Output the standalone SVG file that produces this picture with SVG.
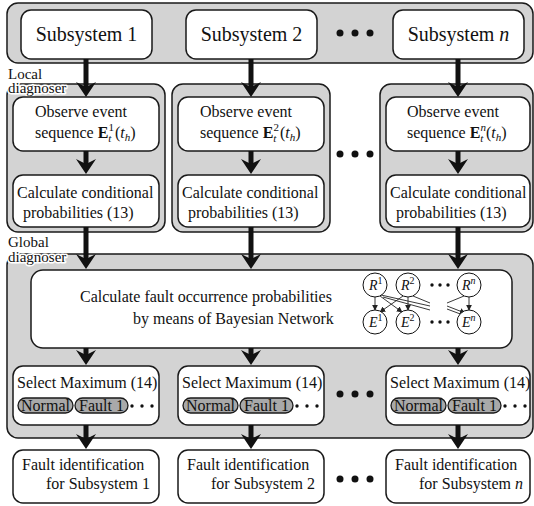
<svg xmlns="http://www.w3.org/2000/svg" xmlns:xlink="http://www.w3.org/1999/xlink" width="534" height="506" viewBox="0 0 534 506">
<style>
.panel{fill:#d3d3d3;stroke:#1a1a1a;stroke-width:1.5}
.box{fill:#fff;stroke:#1a1a1a;stroke-width:1.5}
.pill{fill:#a9a9a9;stroke:#1a1a1a;stroke-width:1.3}
.t{font-size:16px;fill:#111}
.big{font-size:20px}
.lab{font-size:15px;fill:#111}
.halo{stroke:#fff;stroke-width:3;paint-order:stroke;stroke-linejoin:round}
.shaft{stroke:#111;stroke-width:5}
.dot{fill:#111}
.bn{fill:#fff;stroke:#111;stroke-width:1}
.bt{font-size:14px;font-style:italic;fill:#111}
.edge{stroke:#222;stroke-width:0.9;fill:none}
</style>
<defs>
<polygon id="ah" points="-10,-15 0,-10 10,-15 0,0" fill="#111"/>
<marker id="sm" viewBox="0 0 8 8" refX="7" refY="4" markerWidth="6" markerHeight="6" orient="auto" markerUnits="userSpaceOnUse"><path d="M0,0 L8,4 L0,8 Z" fill="#222"/></marker>
</defs>
<g font-family="'Liberation Serif', 'Times New Roman', serif">

<!-- panels -->
<g id="subsystem-band"><rect class="panel" x="7" y="3" width="526" height="60" rx="11"/></g>
<g id="local-panel-1"><rect class="panel" x="7" y="84" width="158" height="148" rx="11"/></g>
<g id="local-panel-2"><rect class="panel" x="172" y="84" width="158" height="148" rx="11"/></g>
<g id="local-panel-n"><rect class="panel" x="380" y="84" width="153" height="148" rx="11"/></g>
<g id="global-panel"><rect class="panel" x="7" y="254" width="526" height="184" rx="11"/></g>

<!-- labels -->
<g id="local-label">
<text class="lab" x="8" y="79">Local</text>
<text class="lab halo" x="8" y="93">diagnoser</text>
</g>
<g id="global-label">
<text class="lab" x="8" y="247">Global</text>
<text class="lab halo" x="8" y="262">diagnoser</text>
</g>

<!-- subsystems -->
<g id="subsystem-1"><rect class="box" x="21" y="10" width="131" height="49" rx="10"/><text class="t big" x="86.5" y="41" text-anchor="middle">Subsystem 1</text></g>
<g id="subsystem-2"><rect class="box" x="186" y="10" width="131" height="49" rx="10"/><text class="t big" x="251.5" y="41" text-anchor="middle">Subsystem 2</text></g>
<g id="subsystem-n"><rect class="box" x="393" y="10" width="131" height="49" rx="10"/><text class="t big" x="458.5" y="41" text-anchor="middle">Subsystem <tspan font-style="italic">n</tspan></text></g>
<g id="dots-top"><circle class="dot" cx="340" cy="33" r="3.5"/><circle class="dot" cx="355" cy="33" r="3.5"/><circle class="dot" cx="370" cy="33" r="3.5"/></g>

<!-- observe boxes -->
<g id="observe-1"><rect class="box" x="13" y="97" width="146" height="54" rx="10"/>
<text class="t" x="35" y="117">Observe event</text>
<text class="t" x="35" y="138">sequence <tspan font-weight="bold">E</tspan><tspan font-style="italic" font-size="11" dy="4">t</tspan><tspan font-size="11" dx="-3" dy="-11">1</tspan><tspan dx="1" dy="7">(</tspan><tspan font-style="italic">t</tspan><tspan font-style="italic" font-size="11" dy="3">h</tspan><tspan dy="-3">)</tspan></text></g>
<g id="observe-2"><rect class="box" x="178" y="97" width="146" height="54" rx="10"/>
<text class="t" x="200" y="117">Observe event</text>
<text class="t" x="200" y="138">sequence <tspan font-weight="bold">E</tspan><tspan font-style="italic" font-size="11" dy="4">t</tspan><tspan font-size="11" dx="-3" dy="-11">2</tspan><tspan dx="1" dy="7">(</tspan><tspan font-style="italic">t</tspan><tspan font-style="italic" font-size="11" dy="3">h</tspan><tspan dy="-3">)</tspan></text></g>
<g id="observe-n"><rect class="box" x="386" y="97" width="144" height="54" rx="10"/>
<text class="t" x="407" y="117">Observe event</text>
<text class="t" x="407" y="138">sequence <tspan font-weight="bold">E</tspan><tspan font-style="italic" font-size="11" dy="4">t</tspan><tspan font-style="italic" font-size="11" dx="-3" dy="-11">n</tspan><tspan dx="0" dy="7">(</tspan><tspan font-style="italic">t</tspan><tspan font-style="italic" font-size="11" dy="3">h</tspan><tspan dy="-3">)</tspan></text></g>
<g id="dots-local"><circle class="dot" cx="340" cy="154" r="3.5"/><circle class="dot" cx="355" cy="154" r="3.5"/><circle class="dot" cx="370" cy="154" r="3.5"/></g>

<!-- calculate boxes -->
<g id="calc-1"><rect class="box" x="13" y="175" width="146" height="52" rx="10"/>
<text class="t" x="17" y="198">Calculate conditional</text><text class="t" x="23" y="218">probabilities (13)</text></g>
<g id="calc-2"><rect class="box" x="178" y="175" width="146" height="52" rx="10"/>
<text class="t" x="182" y="198">Calculate conditional</text><text class="t" x="188" y="218">probabilities (13)</text></g>
<g id="calc-n"><rect class="box" x="386" y="175" width="144" height="52" rx="10"/>
<text class="t" x="390" y="198">Calculate conditional</text><text class="t" x="396" y="218">probabilities (13)</text></g>

<!-- Bayesian network box -->
<g id="bayes"><rect class="box" x="31" y="270" width="481" height="78" rx="12"/>
<text class="t" x="80" y="302" font-size="15">Calculate fault occurrence probabilities</text>
<text class="t" x="133" y="324" font-size="15">by means of Bayesian Network</text>
<g id="bn-graph">
<line class="edge" x1="375" y1="297" x2="375" y2="310" marker-end="url(#sm)"/>
<line class="edge" x1="408" y1="297" x2="408" y2="310" marker-end="url(#sm)"/>
<line class="edge" x1="469" y1="297" x2="469" y2="310" marker-end="url(#sm)"/>
<line class="edge" x1="380" y1="296" x2="402" y2="312" marker-end="url(#sm)"/>
<line class="edge" x1="403" y1="296" x2="380" y2="312" marker-end="url(#sm)"/>
<line class="edge" x1="381" y1="295" x2="430" y2="306"/>
<line class="edge" x1="383" y1="297" x2="430" y2="310"/>
<line class="edge" x1="413" y1="296" x2="430" y2="303"/>
<line class="edge" x1="464" y1="296" x2="447" y2="303"/>
<line class="edge" x1="447" y1="306" x2="465" y2="313" marker-end="url(#sm)"/>
<line class="edge" x1="447" y1="309" x2="463" y2="315"/>
<circle class="bn" cx="375" cy="285" r="12"/><circle class="bn" cx="408" cy="285" r="12"/><circle class="bn" cx="469" cy="285" r="12"/>
<circle class="bn" cx="375" cy="322" r="12"/><circle class="bn" cx="408" cy="322" r="12"/><circle class="bn" cx="469" cy="322" r="12"/>
<text class="bt" x="369" y="290">R<tspan font-style="normal" font-size="10" dy="-6">1</tspan></text>
<text class="bt" x="401" y="290">R<tspan font-style="normal" font-size="10" dy="-6">2</tspan></text>
<text class="bt" x="462" y="290">R<tspan font-size="10" dy="-6">n</tspan></text>
<text class="bt" x="369" y="327">E<tspan font-style="normal" font-size="10" dy="-6">1</tspan></text>
<text class="bt" x="401" y="327">E<tspan font-style="normal" font-size="10" dy="-6">2</tspan></text>
<text class="bt" x="462" y="327">E<tspan font-size="10" dy="-6">n</tspan></text>
<circle class="dot" cx="432" cy="285" r="1.7"/><circle class="dot" cx="440" cy="285" r="1.7"/><circle class="dot" cx="448" cy="285" r="1.7"/>
<circle class="dot" cx="432" cy="322" r="1.7"/><circle class="dot" cx="440" cy="322" r="1.7"/><circle class="dot" cx="448" cy="322" r="1.7"/>
</g></g>

<!-- select boxes -->
<g id="select-1"><rect class="box" x="13" y="366" width="146" height="59" rx="10"/>
<text class="t" x="17" y="388">Select Maximum (14)</text>
<rect class="pill" x="18" y="398" width="55" height="15" rx="7.5"/><text class="t" x="45.5" y="411" text-anchor="middle" font-size="15">Normal</text>
<rect class="pill" x="75" y="398" width="53" height="15" rx="7.5"/><text class="t" x="101.5" y="411" text-anchor="middle" font-size="15">Fault 1</text>
<circle class="dot" cx="132" cy="406" r="1.7"/><circle class="dot" cx="142" cy="406" r="1.7"/><circle class="dot" cx="152" cy="406" r="1.7"/></g>
<g id="select-2"><rect class="box" x="178" y="366" width="146" height="59" rx="10"/>
<text class="t" x="182" y="388">Select Maximum (14)</text>
<rect class="pill" x="183" y="398" width="55" height="15" rx="7.5"/><text class="t" x="210.5" y="411" text-anchor="middle" font-size="15">Normal</text>
<rect class="pill" x="240" y="398" width="53" height="15" rx="7.5"/><text class="t" x="266.5" y="411" text-anchor="middle" font-size="15">Fault 1</text>
<circle class="dot" cx="297" cy="406" r="1.7"/><circle class="dot" cx="307" cy="406" r="1.7"/><circle class="dot" cx="317" cy="406" r="1.7"/></g>
<g id="select-n"><rect class="box" x="386" y="366" width="144" height="59" rx="10"/>
<text class="t" x="390" y="388">Select Maximum (14)</text>
<rect class="pill" x="391" y="398" width="55" height="15" rx="7.5"/><text class="t" x="418.5" y="411" text-anchor="middle" font-size="15">Normal</text>
<rect class="pill" x="448" y="398" width="53" height="15" rx="7.5"/><text class="t" x="474.5" y="411" text-anchor="middle" font-size="15">Fault 1</text>
<circle class="dot" cx="505" cy="406" r="1.7"/><circle class="dot" cx="515" cy="406" r="1.7"/><circle class="dot" cx="525" cy="406" r="1.7"/></g>
<g id="dots-select"><circle class="dot" cx="340" cy="394" r="3.5"/><circle class="dot" cx="355" cy="394" r="3.5"/><circle class="dot" cx="370" cy="394" r="3.5"/></g>

<!-- fault identification -->
<g id="fault-1"><rect class="box" x="13" y="450" width="146" height="53" rx="10"/>
<text class="t" x="22" y="470">Fault identification</text><text class="t" x="46" y="489">for Subsystem 1</text></g>
<g id="fault-2"><rect class="box" x="178" y="450" width="146" height="53" rx="10"/>
<text class="t" x="187" y="470">Fault identification</text><text class="t" x="211" y="489">for Subsystem 2</text></g>
<g id="fault-n"><rect class="box" x="386" y="450" width="144" height="53" rx="10"/>
<text class="t" x="395" y="470">Fault identification</text><text class="t" x="419" y="489">for Subsystem <tspan font-style="italic">n</tspan></text></g>
<g id="dots-fault"><circle class="dot" cx="340" cy="479" r="3.5"/><circle class="dot" cx="355" cy="479" r="3.5"/><circle class="dot" cx="370" cy="479" r="3.5"/></g>

<!-- connectors -->
<g id="connectors">
<line class="shaft" x1="86" y1="59" x2="86" y2="87"/><use xlink:href="#ah" x="86" y="97"/>
<line class="shaft" x1="251" y1="59" x2="251" y2="87"/><use xlink:href="#ah" x="251" y="97"/>
<line class="shaft" x1="458" y1="59" x2="458" y2="87"/><use xlink:href="#ah" x="458" y="97"/>
<line class="shaft" x1="86" y1="151" x2="86" y2="164"/><use xlink:href="#ah" x="86" y="174"/>
<line class="shaft" x1="251" y1="151" x2="251" y2="164"/><use xlink:href="#ah" x="251" y="174"/>
<line class="shaft" x1="458" y1="151" x2="458" y2="164"/><use xlink:href="#ah" x="458" y="174"/>
<line class="shaft" x1="86" y1="227" x2="86" y2="259"/><use xlink:href="#ah" x="86" y="269"/>
<line class="shaft" x1="251" y1="227" x2="251" y2="259"/><use xlink:href="#ah" x="251" y="269"/>
<line class="shaft" x1="458" y1="227" x2="458" y2="259"/><use xlink:href="#ah" x="458" y="269"/>
<line class="shaft" x1="86" y1="348" x2="86" y2="355"/><use xlink:href="#ah" x="86" y="365"/>
<line class="shaft" x1="251" y1="348" x2="251" y2="355"/><use xlink:href="#ah" x="251" y="365"/>
<line class="shaft" x1="458" y1="348" x2="458" y2="355"/><use xlink:href="#ah" x="458" y="365"/>
<line class="shaft" x1="86" y1="425" x2="86" y2="439"/><use xlink:href="#ah" x="86" y="449"/>
<line class="shaft" x1="251" y1="425" x2="251" y2="439"/><use xlink:href="#ah" x="251" y="449"/>
<line class="shaft" x1="458" y1="425" x2="458" y2="439"/><use xlink:href="#ah" x="458" y="449"/>
</g>
</g>
</svg>
